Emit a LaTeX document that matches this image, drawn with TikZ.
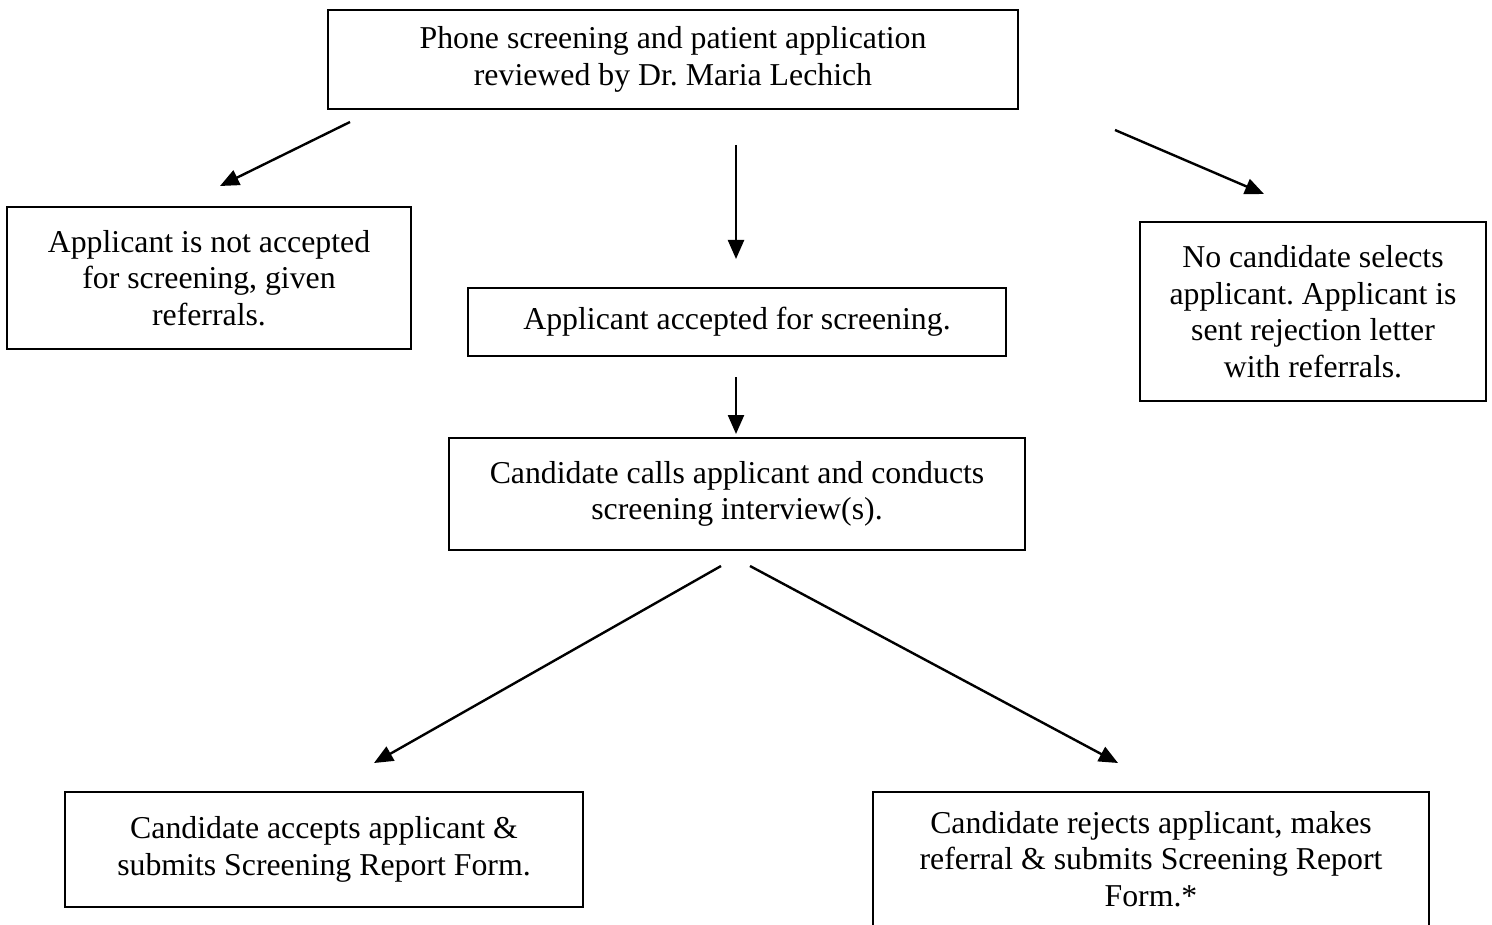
\documentclass[tikz,border=0pt]{standalone}
\usepackage{fontspec}
\setmainfont{Liberation Serif}
\usetikzlibrary{arrows.meta}
\frenchspacing
\begin{document}
\begin{tikzpicture}[x=0.5pt,y=-0.5pt,
  box/.style={draw=black, line width=1pt, inner sep=0pt, align=center,
    font=\fontsize{15.9}{18.25}\selectfont\frenchspacing},
  arr/.style={line width=1.2pt, -{Triangle[length=9.5pt,width=8pt]}}]
\useasboundingbox (0,0) rectangle (1492,925);
\clip (0,0) rectangle (1492,925);
\node[box, minimum width=690pt*0.5, minimum height=99pt*0.5] (top) at (673,59.5)
  {Phone screening and patient application\\reviewed by Dr. Maria Lechich};
\node[box, minimum width=404pt*0.5, minimum height=142pt*0.5] (left) at (209,278)
  {Applicant is not accepted\\for screening, given\\referrals.};
\node[box, minimum width=538pt*0.5, minimum height=68pt*0.5] (mid) at (737,322)
  {Applicant accepted for screening.};
\node[box, minimum width=346pt*0.5, minimum height=179pt*0.5] (right) at (1313,311.5)
  {No candidate selects\\applicant. Applicant is\\sent rejection letter\\with referrals.};
\node[box, minimum width=576pt*0.5, minimum height=112pt*0.5] (center) at (737,494)
  {Candidate calls applicant and conducts\\screening interview(s).};
\node[box, minimum width=518pt*0.5, minimum height=115pt*0.5] (bl) at (324,849.5)
  {Candidate accepts applicant \&\\submits Screening Report Form.};
\node[box, minimum width=556pt*0.5, minimum height=134pt*0.5] (br) at (1151,859)
  {Candidate rejects applicant, makes\\referral \& submits Screening Report\\Form.*};
\coordinate (a1s) at (350,122); \coordinate (a1e) at (220,186);
\coordinate (a2s) at (736,145); \coordinate (a2e) at (736,259);
\coordinate (a3s) at (1115,130); \coordinate (a3e) at (1264,194);
\coordinate (a4s) at (736,377); \coordinate (a4e) at (736,434);
\coordinate (a5s) at (721,566); \coordinate (a5e) at (374,763);
\coordinate (a6s) at (750,566); \coordinate (a6e) at (1118,763);
\draw[arr] (a1s) -- (a1e);
\draw[arr] (a2s) -- (a2e);
\draw[arr] (a3s) -- (a3e);
\draw[arr] (a4s) -- (a4e);
\draw[arr] (a5s) -- (a5e);
\draw[arr] (a6s) -- (a6e);
\end{tikzpicture}
\end{document}
